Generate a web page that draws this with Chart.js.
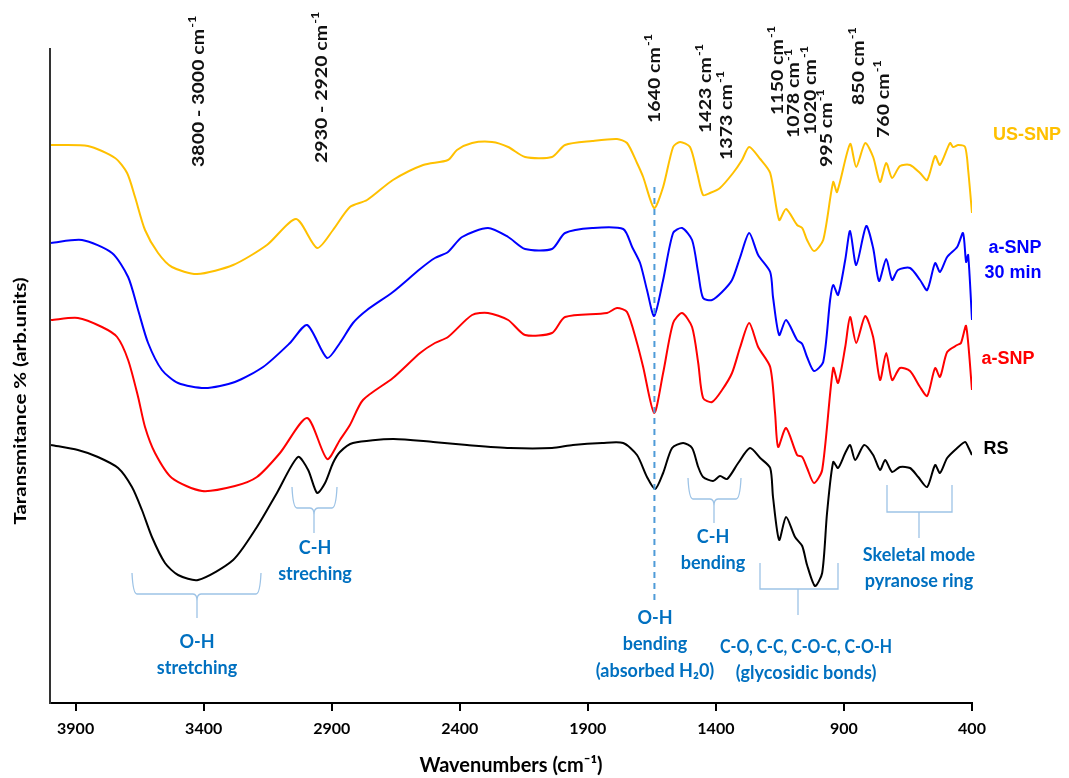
<!DOCTYPE html>
<html>
<head>
<meta charset="utf-8">
<title>FTIR spectra</title>
<script src="https://cdn.jsdelivr.net/npm/chart.js@4.4.1/dist/chart.umd.min.js"></script>
<style>
  body { margin: 0; background: #fff; }
  canvas { display: block; }
</style>
</head>
<body>
<canvas id="ftirChart" width="1069" height="778"></canvas>
<script>
// Wavenumber (cm-1) / transmittance (arb. units) pairs
const xTicks = [3900, 3400, 2900, 2400, 1900, 1400, 900, 400];

const usSnp = [
  [3996,558],[3852,557],[3746,545],[3699,530],[3668,506],[3629,473],[3578,450],[3524,436],
  [3426,429],[3285,438],[3153,458],[3039,484],[2957,455],[2895,473],[2829,496],[2762,503],
  [2661,523],[2543,538],[2446,543],[2411,553],[2352,560],[2274,561],[2211,556],[2145,546],
  [2040,546],[1989,558],[1883,562],[1786,564],[1747,560],[1708,540],[1684,526],[1641,495],
  [1606,516],[1567,556],[1540,561],[1501,556],[1473,530],[1450,508],[1423,510],[1384,515],
  [1333,530],[1298,543],[1270,556],[1227,544],[1188,530],[1153,483],[1126,494],[1083,478],
  [1063,475],[1044,463],[1017,452],[981,463],[942,521],[927,511],[876,559],[852,536],
  [817,560],[786,546],[759,521],[735,540],[712,525],[681,537],[642,538],[603,530],
  [575,523],[544,547],[525,538],[486,560],[474,556],[454,558],[427,556],[415,533],[400,490]
];

const aSnp30 = [
  [3996,460],[3875,463],[3758,450],[3695,426],[3656,393],[3617,360],[3563,333],[3500,320],
  [3395,315],[3278,321],[3168,336],[3063,360],[2996,378],[2918,345],[2868,360],[2817,380],
  [2762,393],[2661,411],[2555,434],[2497,445],[2446,451],[2391,466],[2290,475],[2211,466],
  [2145,454],[2040,454],[1989,470],[1883,475],[1762,474],[1727,456],[1696,440],[1669,413],
  [1641,387],[1606,423],[1567,470],[1532,475],[1493,463],[1469,430],[1450,405],[1415,403],
  [1376,411],[1337,423],[1305,446],[1270,470],[1235,448],[1188,431],[1177,406],[1153,368],
  [1126,383],[1083,363],[1063,359],[1044,346],[1017,332],[981,341],[954,403],[942,418],
  [923,408],[895,443],[876,472],[852,438],[813,477],[786,455],[763,422],[735,444],
  [712,423],[689,433],[642,435],[603,423],[575,413],[544,440],[525,431],[497,446],
  [458,456],[435,470],[423,441],[415,448],[400,383]
];

const aSnp = [
  [3996,383],[3891,385],[3797,376],[3738,366],[3695,343],[3656,306],[3629,276],[3590,250],
  [3524,225],[3406,212],[3278,217],[3192,226],[3102,250],[2996,285],[2918,244],[2868,263],
  [2829,278],[2778,303],[2661,325],[2555,350],[2497,360],[2446,366],[2352,388],[2290,390],
  [2211,383],[2145,368],[2040,370],[1989,386],[1825,390],[1786,395],[1747,391],[1708,360],
  [1684,336],[1641,290],[1606,330],[1567,380],[1532,390],[1493,376],[1469,340],[1450,305],
  [1415,301],[1376,313],[1337,330],[1305,356],[1270,380],[1235,356],[1188,336],[1169,290],
  [1157,256],[1126,275],[1083,248],[1063,246],[1044,235],[1017,220],[985,233],[942,335],
  [923,320],[895,356],[876,386],[852,360],[817,387],[786,366],[759,323],[735,350],
  [712,323],[681,335],[642,332],[603,316],[575,307],[544,335],[525,326],[497,351],
  [458,358],[443,360],[423,377],[400,313]
];

const rs = [
  [3996,258],[3891,253],[3813,246],[3734,235],[3680,216],[3641,193],[3602,166],[3551,140],
  [3500,128],[3422,123],[3285,143],[3192,176],[3114,210],[3032,246],[2992,233],[2957,210],
  [2926,220],[2895,240],[2868,251],[2817,260],[2661,264],[2504,261],[2372,258],[2204,255],
  [2040,255],[1958,258],[1844,260],[1762,260],[1708,248],[1669,226],[1637,214],[1606,230],
  [1571,255],[1528,260],[1493,255],[1469,236],[1450,226],[1411,222],[1384,227],[1356,224],
  [1313,240],[1267,255],[1227,245],[1188,235],[1177,206],[1153,163],[1126,186],[1091,166],
  [1063,157],[1044,138],[1013,117],[985,130],[966,190],[942,241],[923,235],[895,250],
  [876,258],[856,243],[821,258],[786,248],[759,233],[739,243],[712,231],[681,236],
  [642,235],[610,226],[575,216],[544,238],[525,230],[497,245],[458,255],[427,261],
  [415,256],[400,248]
];

const toXY = arr => arr.map(p => ({ x: p[0], y: p[1] }));

// annotation texts
const peakLabels = [
  { text: '3800 - 3000 cm', w: 3420, y: 167 },
  { text: '2930 - 2920 cm', w: 2940, y: 163 },
  { text: '1640 cm', w: 1640, y: 123 },
  { text: '1423 cm', w: 1440, y: 133 },
  { text: '1373 cm', w: 1360, y: 160 },
  { text: '1150 cm', w: 1160, y: 115 },
  { text: '1078 cm', w: 1095, y: 138 },
  { text: '1020 cm', w: 1030, y: 135 },
  { text: '995 cm', w: 970, y: 167 },
  { text: '850 cm', w: 845, y: 105 },
  { text: '760 cm', w: 745, y: 138 }
];

const seriesLabels = [
  { text: 'US-SNP', color: '#FFC000', x: 1027, y: 135 },
  { text: 'a-SNP', color: '#0000FF', x: 1015, y: 248 },
  { text: '30 min', color: '#0000FF', x: 1013, y: 273 },
  { text: 'a-SNP', color: '#FF0000', x: 1008, y: 359 },
  { text: 'RS', color: '#000000', x: 996, y: 449 }
];

const bandNotes = [
  { lines: ['O-H', 'stretching'], x: 197, y: 642 },
  { lines: ['C-H', 'streching'], x: 315, y: 548 },
  { lines: ['O-H', 'bending', '(absorbed H\u20820)'], x: 655, y: 618 },
  { lines: ['C-H', 'bending'], x: 713, y: 537 },
  { lines: ['C-O, C-C, C-O-C, C-O-H', '(glycosidic bonds)'], x: 806, y: 647 },
  { lines: ['Skeletal mode', 'pyranose ring'], x: 919, y: 555 }
];

const brackets = [
  { x1: 132, x2: 261, top: 573, mid: 594, stem: 197, end: 618, curly: true },
  { x1: 292, x2: 337, top: 487, mid: 508, stem: 314, end: 533, curly: true },
  { x1: 688, x2: 741, top: 478, mid: 499, stem: 714, end: 523, curly: true },
  { x1: 760, x2: 838, top: 563, mid: 589, stem: 798, end: 615, curly: false },
  { x1: 887, x2: 952, top: 485, mid: 512, stem: 919, end: 538, curly: false }
];

const annotations = {
  id: 'annotations',
  afterDraw(chart) {
    const ctx = chart.ctx;
    const xs = chart.scales.x;

    // dashed line at 1640 cm-1
    ctx.save();
    ctx.strokeStyle = '#4F9BD8';
    ctx.lineWidth = 2;
    ctx.setLineDash([6, 5]);
    const xd = xs.getPixelForValue(1640);
    ctx.beginPath();
    ctx.moveTo(xd, 187);
    ctx.lineTo(xd, 605);
    ctx.stroke();
    ctx.restore();

    // rotated peak labels
    peakLabels.forEach(l => {
      ctx.save();
      ctx.translate(xs.getPixelForValue(l.w), l.y);
      ctx.rotate(-Math.PI / 2);
      ctx.scale(1.15, 1);
      ctx.fillStyle = '#111';
      ctx.textBaseline = 'middle';
      ctx.textAlign = 'left';
      ctx.font = 'bold 17px Lato';
      ctx.fillText(l.text, 0, 0);
      const w = ctx.measureText(l.text).width;
      ctx.font = 'bold 11px Lato';
      ctx.fillText('-1', w + 1, -6);
      ctx.restore();
    });

    // y axis title
    ctx.save();
    ctx.translate(21, 401);
    ctx.rotate(-Math.PI / 2);
    ctx.scale(1.2, 1);
    ctx.font = 'bold 17px Lato';
    ctx.fillStyle = '#000';
    ctx.textAlign = 'center';
    ctx.textBaseline = 'middle';
    ctx.fillText('Taransmitance % (arb.units)', 0, 0);
    ctx.restore();

    // series names
    ctx.save();
    ctx.font = 'bold 18px "Liberation Sans", Arial, sans-serif';
    ctx.textAlign = 'center';
    ctx.textBaseline = 'middle';
    seriesLabels.forEach(l => {
      ctx.fillStyle = l.color;
      ctx.fillText(l.text, l.x, l.y);
    });
    ctx.restore();

    // brackets
    ctx.save();
    ctx.strokeStyle = '#9DC3E6';
    ctx.lineWidth = 1.3;
    brackets.forEach(b => {
      ctx.beginPath();
      if (b.curly) {
        ctx.moveTo(b.x1, b.top);
        ctx.quadraticCurveTo(b.x1 + 1, b.mid, b.x1 + 5, b.mid);
        ctx.lineTo(b.stem - 4, b.mid);
        ctx.quadraticCurveTo(b.stem, b.mid, b.stem, b.mid + 7);
        ctx.quadraticCurveTo(b.stem, b.mid, b.stem + 4, b.mid);
        ctx.lineTo(b.x2 - 5, b.mid);
        ctx.quadraticCurveTo(b.x2 - 1, b.mid, b.x2, b.top);
        ctx.moveTo(b.stem, b.mid + 7);
        ctx.lineTo(b.stem, b.end);
      } else {
        ctx.moveTo(b.x1, b.top);
        ctx.lineTo(b.x1, b.mid);
        ctx.lineTo(b.x2, b.mid);
        ctx.lineTo(b.x2, b.top);
        ctx.moveTo(b.stem, b.mid);
        ctx.lineTo(b.stem, b.end);
      }
      ctx.stroke();
    });
    ctx.restore();

    // band assignments
    ctx.save();
    ctx.font = 'bold 18px Lato';
    ctx.fillStyle = '#0070C0';
    ctx.textAlign = 'center';
    ctx.textBaseline = 'middle';
    bandNotes.forEach(n => {
      n.lines.forEach((t, i) => ctx.fillText(t, n.x, n.y + i * 26.5, 172));
    });
    ctx.restore();
  }
};

const ctx = document.getElementById('ftirChart').getContext('2d');
const ftirChart = new Chart(ctx, {
  type: 'line',
  data: {
    datasets: [
      { label: 'US-SNP', data: toXY(usSnp), borderColor: '#FFC000' },
      { label: 'a-SNP 30 min', data: toXY(aSnp30), borderColor: '#0000FF' },
      { label: 'a-SNP', data: toXY(aSnp), borderColor: '#FF0000' },
      { label: 'RS', data: toXY(rs), borderColor: '#000000' }
    ]
  },
  options: {
    responsive: false,
    animation: false,
    devicePixelRatio: 1,
    layout: { padding: { left: 50, right: 97, top: 49, bottom: 0 } },
    elements: {
      point: { radius: 0 },
      line: { borderWidth: 2, tension: 0.25, fill: false }
    },
    plugins: {
      legend: { display: false },
      tooltip: { enabled: false }
    },
    scales: {
      x: {
        type: 'linear',
        reverse: true,
        min: 400,
        max: 4000,
        afterBuildTicks: s => { s.ticks = xTicks.map(v => ({ value: v })); },
        afterFit: s => { s.height = 75; },
        ticks: {
          color: '#000',
          padding: 8,
          font: { family: 'Lato', size: 16, weight: 'bold' },
          callback: v => String(v)
        },
        grid: { drawOnChartArea: false, drawTicks: true, tickLength: 8, color: '#000', lineWidth: 2 },
        border: { color: '#000', width: 2 },
        title: {
          display: true,
          text: 'Wavenumbers (cm\u207B\u00B9)',
          color: '#000',
          font: { family: 'Lato', size: 20, weight: 'bold' },
          padding: { top: 0, bottom: 0 }
        }
      },
      y: {
        min: 0,
        max: 654,
        ticks: { display: false },
        grid: { display: false },
        border: { color: '#333', width: 2 },
        afterFit: s => { s.width = 0; }
      }
    }
  },
  plugins: [annotations]
});
</script>
</body>
</html>
